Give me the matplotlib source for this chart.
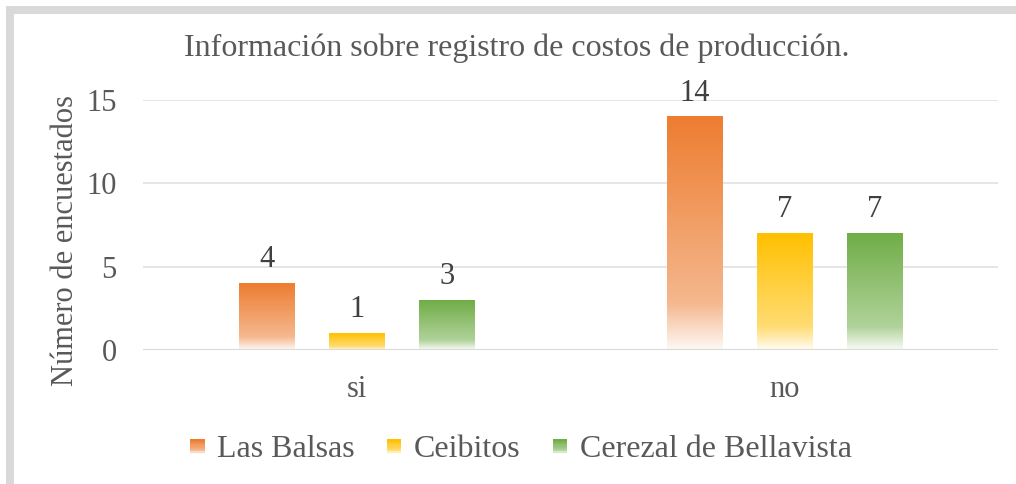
import matplotlib
matplotlib.use("Agg")
import matplotlib.pyplot as plt
import numpy as np
from matplotlib.colors import to_rgb
from matplotlib.legend_handler import HandlerBase
from matplotlib.patches import Rectangle
from matplotlib.lines import Line2D

categories = ["si", "no"]
series_names = ["Las Balsas", "Ceibitos", "Cerezal de Bellavista"]
las_balsas = [4, 14]
ceibitos = [1, 7]
cerezal = [3, 7]
colors = ["#ED7D31", "#FFC000", "#70AD47"]

plt.rcParams["font.family"] = ["Liberation Serif", "DejaVu Serif"]
TXT = "#595959"


def fade_alpha(t):
    # t = 0 at top of bar, 1 at bottom
    t = np.asarray(t)
    a = np.where(t < 0.8, 1.0 - 0.45 * t / 0.8, 0.55 - 0.5 * (t - 0.8) / 0.2)
    return np.clip(a, 0.03, 1)


def gradient_rgba(color, n=200):
    r, g, b = to_rgb(color)
    t = np.linspace(0, 1, n)
    a = fade_alpha(t)
    rgb = np.ones((n, 1, 3))
    for i, c in enumerate((r, g, b)):
        rgb[:, 0, i] = c * a + (1 - a)
    return rgb


class GradientHandler(HandlerBase):
    def __init__(self, color):
        super().__init__()
        self.color = color

    def create_artists(self, legend, orig_handle, xdescent, ydescent,
                       width, height, fontsize, trans):
        side = width
        x0 = -xdescent
        y0 = -ydescent + (height - side) / 2 - 1
        n = 12
        arts = []
        img = gradient_rgba(self.color, n)
        for k in range(n):
            c = img[k, 0]
            arts.append(Rectangle((x0, y0 + side - (k + 1) * side / n), side,
                                  side / n + 0.2, facecolor=c, edgecolor="none",
                                  transform=trans))
        return arts


fig = plt.figure(figsize=(10.16, 4.84), dpi=100)
fig.patches.append(Rectangle((6 / 1016, 0), 8 / 1016, 1 - 6 / 484,
                             transform=fig.transFigure, facecolor="#d9d9d9",
                             edgecolor="none"))
fig.patches.append(Rectangle((6 / 1016, 1 - 14 / 484), 1, 8 / 484,
                             transform=fig.transFigure, facecolor="#d9d9d9",
                             edgecolor="none"))

ax = fig.add_axes([143 / 1016, 1 - 350 / 484, 855 / 1016, 250 / 484])

x = np.arange(len(categories))
width = 0.129
offsets = [-0.2105, 0.0, 0.2105]
all_series = [las_balsas, ceibitos, cerezal]

for vals, off, col in zip(all_series, offsets, colors):
    for xi, v in zip(x, vals):
        x0 = xi + off - width / 2
        ax.imshow(gradient_rgba(col), extent=(x0, x0 + width, 0, v),
                  aspect="auto", zorder=3, interpolation="bilinear")
        ax.text(xi + off, v + 0.55, str(v), ha="center", va="bottom",
                fontsize=22, color="#404040")

ax.set_xlim(-0.5, 1.5)
ax.set_ylim(0, 15)
ax.set_yticks([0, 5, 10, 15])
ax.set_xticks(x)
ax.set_xticklabels(categories)
ax.tick_params(axis="both", length=0, labelsize=22, labelcolor=TXT)
ax.tick_params(axis="y", pad=19)
ax.tick_params(axis="x", pad=18)
for s in ax.spines.values():
    s.set_visible(False)
ax.grid(axis="y", color="#e0e0e0", linewidth=1.2, zorder=0)
ax.axhline(0, color="#d9d9d9", linewidth=1.5, zorder=4)
ax.set_ylabel("Número de encuestados", fontsize=22, color=TXT)
ax.yaxis.set_label_coords(-0.074, 0.44)

fig.text(517 / 1016, 1 - 48 / 484, "Información sobre registro de costos de producción.",
         ha="center", va="center", fontsize=23, color=TXT)

handles = [Line2D([], []) for _ in series_names]
ax.legend(handles, series_names, loc="center", bbox_to_anchor=(521 / 1016, 1 - 449 / 484),
          bbox_transform=fig.transFigure, ncol=3, frameon=False, fontsize=23,
          labelcolor=TXT, handlelength=0.45, handletextpad=0.4, columnspacing=1.0,
          borderpad=0, handler_map={h: GradientHandler(c) for h, c in zip(handles, colors)})

fig.savefig("out.png", dpi=100)
